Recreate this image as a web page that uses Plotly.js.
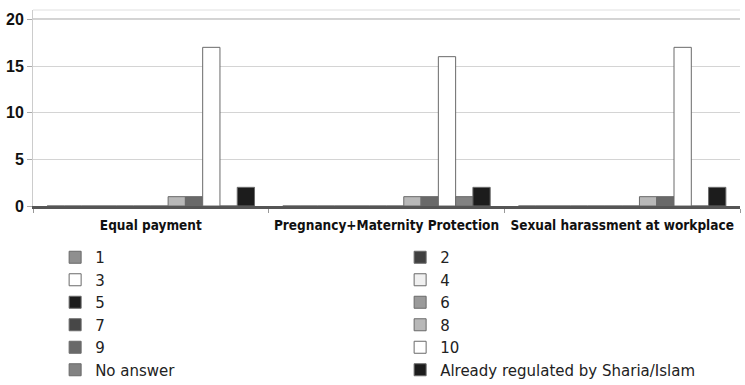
<!DOCTYPE html>
<html><head><meta charset="utf-8">
<script src="https://cdn.plot.ly/plotly-3.0.1.min.js"></script>
<style>html,body{margin:0;padding:0;background:#fff}#chart{width:745px;height:385px}</style>
</head><body><div id="chart"></div>
<script>
const categories = ["Equal payment", "Pregnancy+Maternity Protection", "Sexual harassment at workplace"];
const seriesNames = ["1","2","3","4","5","6","7","8","9","10","No answer","Already regulated by Sharia/Islam"];
const s1 = [0,0,0];
const s2 = [0,0,0];
const s3 = [0,0,0];
const s4 = [0,0,0];
const s5 = [0,0,0];
const s6 = [0,0,0];
const s7 = [0,0,0];
const s8 = [1,1,1];
const s9 = [1,1,1];
const s10 = [17,16,17];
const sNoAnswer = [0,1,0];
const sSharia = [2,2,2];
const seriesValues = [s1,s2,s3,s4,s5,s6,s7,s8,s9,s10,sNoAnswer,sSharia];
const colors = ["#8f8f8f","#404040","#ffffff","#f0f0f0","#1c1c1c","#9a9a9a","#474747","#b8b8b8","#696969","#ffffff","#828282","#1c1c1c"];
const yTicks = [0,5,10,15,20];

const traces = seriesNames.map((n,i)=>({
  type:'bar', name:n, x:categories, y:seriesValues[i],
  marker:{color:colors[i], line:{color:'#6a6a6a', width:1}},
  hoverinfo:'skip'
}));

const layout = {
  width:745, height:385,
  margin:{l:33, r:5, t:10, b:179, autoexpand:false},
  paper_bgcolor:'#fff', plot_bgcolor:'#fff',
  barmode:'group', bargap:0.12, bargroupgap:0,
  showlegend:true,
  legend:{orientation:'h', xref:'container', yref:'container', x:0.074, xanchor:'left', y:0.374, yanchor:'top',
    entrywidth:300, entrywidthmode:'pixels', traceorder:'normal',
    font:{family:'DejaVu Sans', size:15, color:'#222'}, itemwidth:30, bgcolor:'rgba(0,0,0,0)'},
  xaxis:{type:'category', showgrid:false, showline:true, linecolor:'#555', linewidth:3,
    ticks:'outside', tickson:'boundaries', ticklen:4, tickcolor:'#999', ticklabelstandoff:5, tickangle:0,
    tickfont:{family:'DejaVu Sans Condensed', size:13.5, weight:'bold', color:'#111'}},
  yaxis:{range:[0,21], tickvals:yTicks, ticktext:yTicks.map(String), showgrid:true, gridcolor:'#d4d4d4',
    showline:true, linecolor:'#cccccc', ticks:'outside', ticklen:5, tickcolor:'#aaa', zeroline:false,
    tickfont:{family:'Liberation Sans', size:16, weight:'bold', color:'#111'}},
  shapes:[
    {type:'line', xref:'paper', yref:'y', x0:0, x1:1, y0:20, y1:20, line:{color:'#a8a8a8', width:1.5}, layer:'below'},
    {type:'line', xref:'paper', yref:'paper', x0:0, x1:1, y0:1, y1:1, line:{color:'#e0e0e0', width:1}, layer:'below'}
  ]
};
Plotly.newPlot('chart', traces, layout, {displayModeBar:false, staticPlot:true});
</script></body></html>
